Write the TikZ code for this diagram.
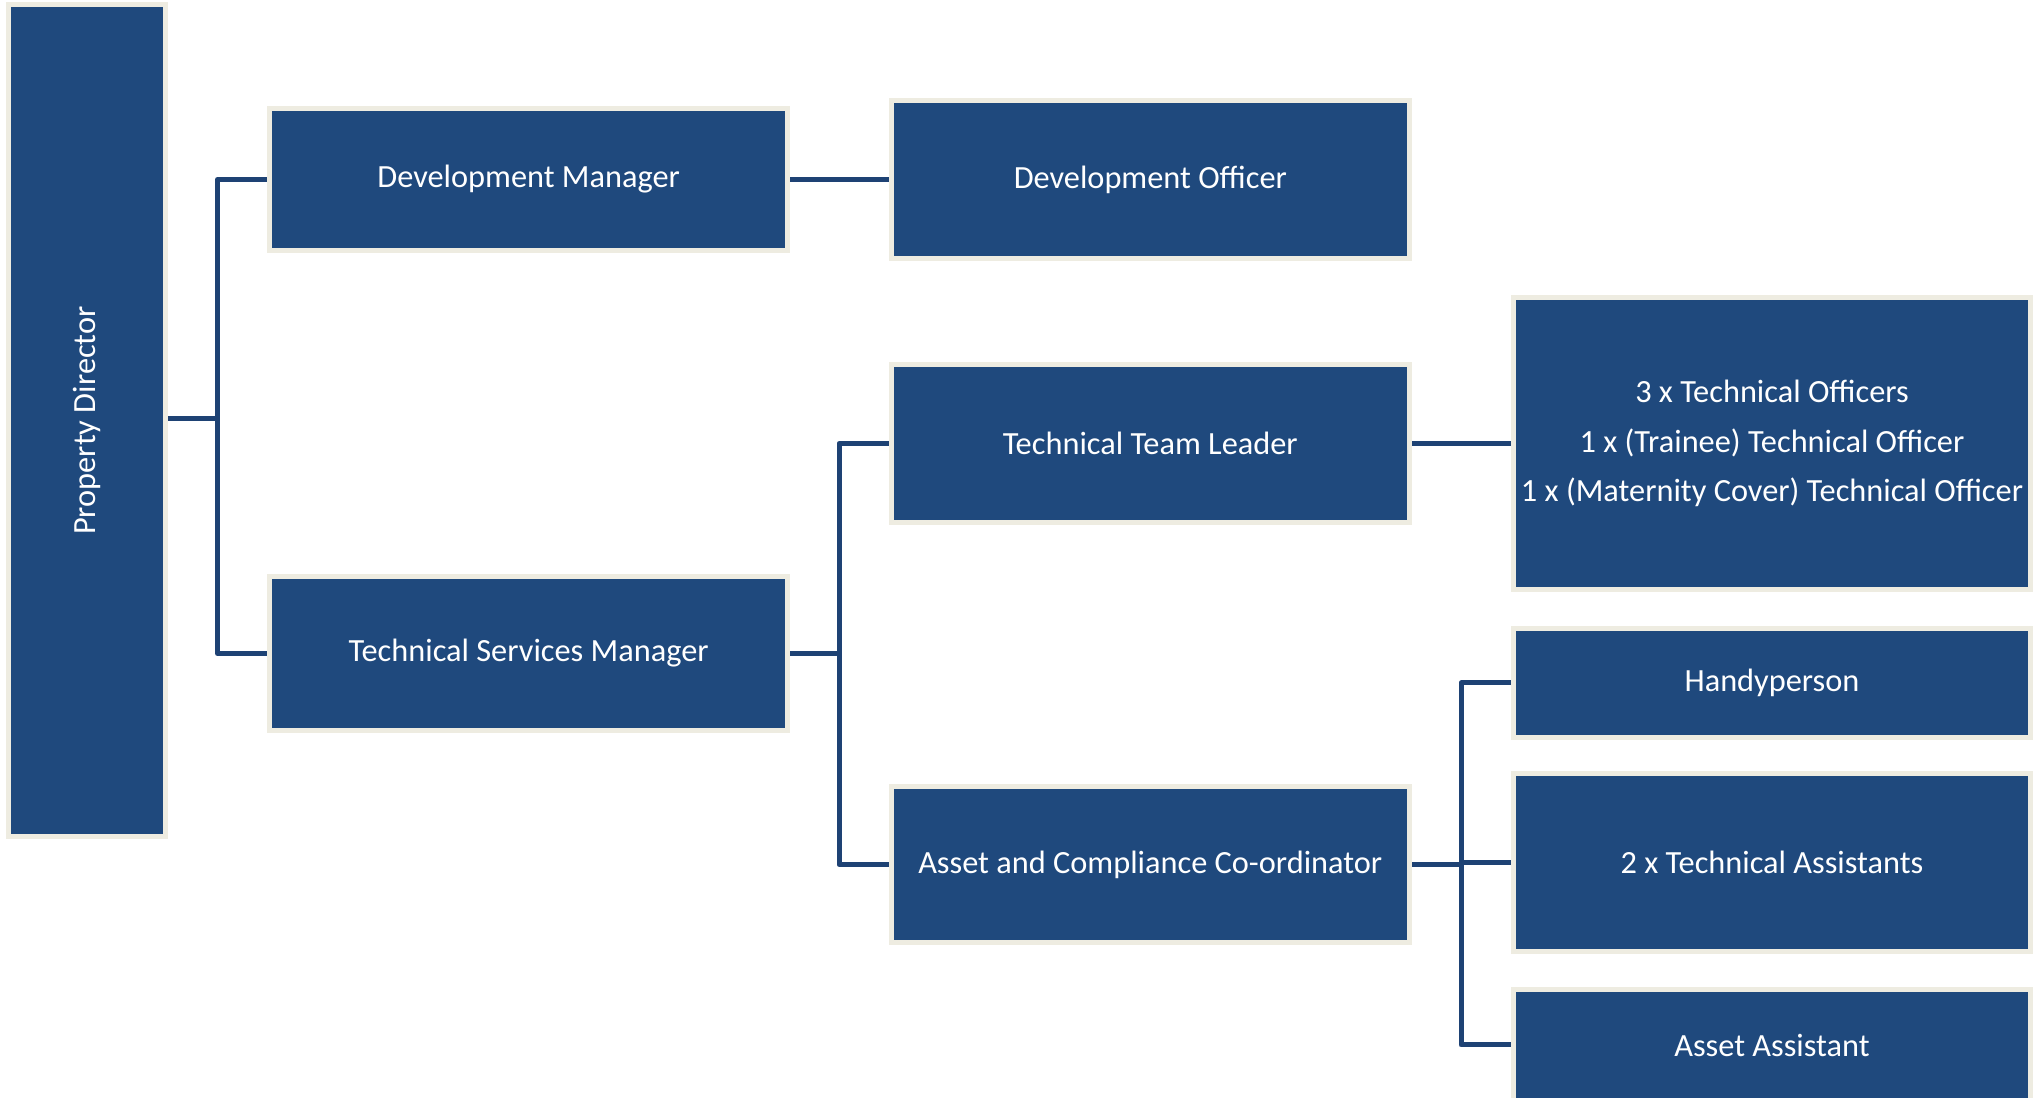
\documentclass[tikz,border=0pt]{standalone}
\usepackage{fontspec}
\setmainfont{Carlito}
\usepackage{xcolor}
\usepackage{tikz}
\usetikzlibrary{backgrounds}
\definecolor{boxblue}{HTML}{1F497D}
\definecolor{boxrim}{HTML}{EEECE1}
\definecolor{linkblue}{HTML}{1E4274}
\tikzset{post/.style={draw=boxrim, line width=0.05cm, fill=boxblue, text=white,
  inner sep=0pt, align=center, font=\fontsize{9.2}{14.1}\selectfont}}
\tikzset{link/.style={draw=linkblue, line width=0.05cm, line join=round}}

\begin{document}
\begin{tikzpicture}[x=0.01cm, y=-0.01cm]
\useasboundingbox (0,0) rectangle (2042,1098);

\node[post, minimum width=1.57cm, minimum height=8.31cm] (pd) at (86.7,420.6) {\rotatebox{90}{Property Director}};

\node[post, minimum width=5.177cm, minimum height=1.417cm] (dm) at (528.7,179.5) {Development Manager};
\node[post, minimum width=5.177cm, minimum height=1.546cm] (tsm) at (528.7,653.5) {Technical Services Manager};

\node[post, minimum width=5.177cm, minimum height=1.577cm] (do) at (1150.3,179.5) {Development Officer};
\node[post, minimum width=5.177cm, minimum height=1.57cm] (ttl) at (1150.3,443.5) {Technical Team Leader};
\node[post, minimum width=5.177cm, minimum height=1.56cm] (acc) at (1150.3,864.5) {Asset and Compliance Co-ordinator};

\node[post, minimum width=5.176cm, minimum height=2.91cm] (to) at (1772,443.5) {3 x Technical Officers\\1 x (Trainee) Technical Officer\\1 x (Maternity Cover) Technical Officer};
\node[post, minimum width=5.176cm, minimum height=1.08cm] (hp) at (1772,683) {Handyperson};
\node[post, minimum width=5.176cm, minimum height=1.77cm] (ta) at (1772,862.5) {2 x Technical Assistants};
\node[post, minimum width=5.176cm, minimum height=1.104cm] (aa) at (1772,1045) {Asset Assistant};

\begin{scope}[on background layer]
\coordinate (j1) at (217.5,419);
\coordinate (j2) at (839,653.5);
\coordinate (j3) at (1461,864.5);
\draw[link] (pd.east |- j1) -- (j1);
\draw[link] (dm.west) -- (j1 |- dm.west) -- (j1 |- tsm.west) -- (tsm.west);
\draw[link] (dm.east) -- (do.west);
\draw[link] (tsm.east) -- (j2);
\draw[link] (ttl.west) -- (j2 |- ttl.west) -- (j2 |- acc.west) -- (acc.west);
\draw[link] (ttl.east) -- (to.west);
\draw[link] (acc.east) -- (j3);
\draw[link] (hp.west) -- (j3 |- hp.west) -- (j3 |- aa.west) -- (aa.west);
\draw[link] (j3 |- ta.west) -- (ta.west);
\end{scope}
\end{tikzpicture}
\end{document}
